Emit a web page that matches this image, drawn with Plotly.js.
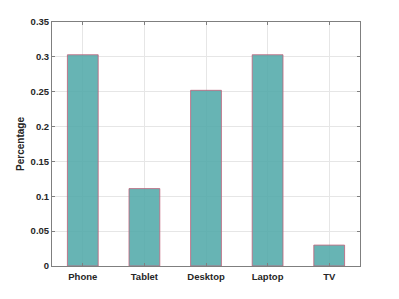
<!DOCTYPE html>
<html><head><meta charset="utf-8">
<script src="https://cdn.plot.ly/plotly-3.0.1.min.js"></script>
<style>html,body{margin:0;padding:0;background:#fff}#c{width:399px;height:299px}</style>
</head><body><div id="c"></div>
<script>
const categories = ["Phone", "Tablet", "Desktop", "Laptop", "TV"];
const percentages = [0.303, 0.111, 0.252, 0.303, 0.03];
const yTicks = [0, 0.05, 0.1, 0.15, 0.2, 0.25, 0.3, 0.35];
const yTickLabels = ["0", "0.05", "0.1", "0.15", "0.2", "0.25", "0.3", "0.35"];

const fnt = {family: "Liberation Sans, Arial, sans-serif", size: 9.5, color: "#262626", weight: "bold"};
Plotly.newPlot("c", [{
  type: "bar", x: categories, y: percentages, width: 0.5,
  marker: {color: "rgba(82,170,170,0.88)", line: {color: "#c06078", width: 0.8}},
  hoverinfo: "none"
}], {
  width: 399, height: 299,
  margin: {l: 52, r: 39, t: 22, b: 33},
  paper_bgcolor: "#fff", plot_bgcolor: "#fff",
  showlegend: false,
  bargap: 0.5,
  xaxis: {
    type: "category", range: [-0.5, 4.5], tickfont: fnt, ticklabelstandoff: 2,
    showgrid: true, gridcolor: "#e6e6e6", gridwidth: 1,
    showline: true, linecolor: "#7f7f7f", linewidth: 1, mirror: "ticks",
    ticks: "inside", ticklen: 3, tickcolor: "#7f7f7f", zeroline: false
  },
  yaxis: {
    range: [0, 0.35], tickvals: yTicks, ticktext: yTickLabels, tickfont: fnt,
    showgrid: true, gridcolor: "#e6e6e6", gridwidth: 1,
    showline: true, linecolor: "#7f7f7f", linewidth: 1, mirror: "ticks",
    ticks: "inside", ticklen: 3, tickcolor: "#7f7f7f", zeroline: false,
    title: {text: "Percentage", font: {family: "Liberation Sans, Arial, sans-serif", size: 10, color: "#262626", weight: "bold"}, standoff: 4}
  }
}, {displayModeBar: false, staticPlot: true});
</script></body></html>
